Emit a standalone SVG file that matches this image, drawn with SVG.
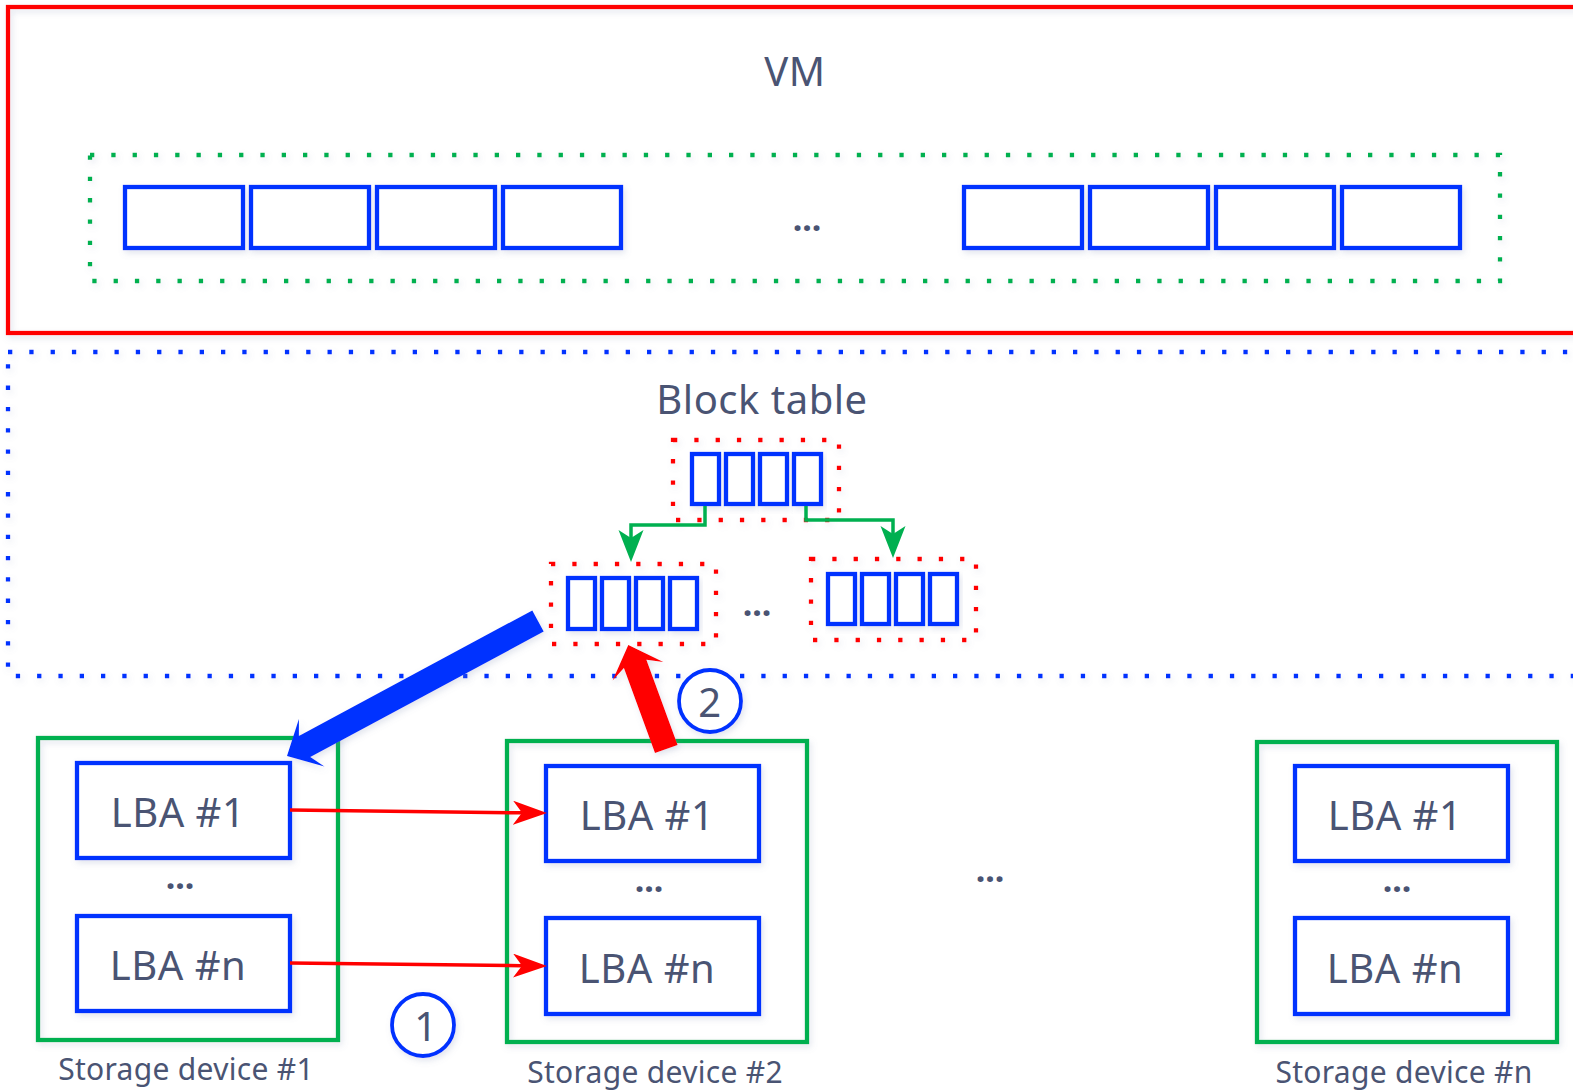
<svg xmlns="http://www.w3.org/2000/svg" width="1573" height="1091" viewBox="0 0 1573 1091">
  <defs>
    <filter id="shadow" x="-10%" y="-10%" width="130%" height="130%">
      <feDropShadow dx="2" dy="3" stdDeviation="3" flood-color="#7d8bb0" flood-opacity="0.22"/>
    </filter>
    <marker id="arrGreen" markerUnits="userSpaceOnUse" markerWidth="34" markerHeight="27" refX="8" refY="12.5" orient="auto">
      <path d="M0,0 L32,12.5 L0,25 L8,12.5 Z" fill="#00b050"/>
    </marker>
    <marker id="arrRed" markerUnits="userSpaceOnUse" markerWidth="36" markerHeight="26" refX="9" refY="12" orient="auto">
      <path d="M0,0 L34,12 L0,24 L9,12 Z" fill="#ff0000"/>
    </marker>
  </defs>
  <style>
    .txt { font-family: "Noto Sans", "Liberation Sans", sans-serif; fill: #4a5473; text-anchor: middle; }
    .big { font-size: 40px; letter-spacing: 0.5px; }
    .lbl { font-size: 30px; letter-spacing: 0.3px; }
    .ell { font-size: 34px; font-weight: bold; }
    .cell { fill: #ffffff; stroke: #0433ff; stroke-width: 4.3; }
    .dotted { fill: none; stroke-width: 4.3; stroke-dasharray: 4.3 17; }
    .frame { fill: none; stroke-width: 4.3; }
    .sh { filter: url(#shadow); }
  </style>

  <rect width="1573" height="1091" fill="#ffffff"/>

  <!-- VM area -->
  <g id="vm">
    <rect class="frame sh" x="8" y="7" width="1580" height="326" stroke="#ff0000"/>
    <text class="txt big" x="795" y="86">VM</text>
  </g>

  <!-- VM virtual disk blocks -->
  <g id="vm-blocks">
    <rect class="dotted sh" x="90" y="155" width="1410" height="126" stroke="#00b050"/>
    <rect class="cell sh" x="125" y="187" width="118" height="61"/>
    <rect class="cell sh" x="251" y="187" width="118" height="61"/>
    <rect class="cell sh" x="377" y="187" width="118" height="61"/>
    <rect class="cell sh" x="503" y="187" width="118" height="61"/>
    <text class="txt ell" x="807" y="231">...</text>
    <rect class="cell sh" x="964" y="187" width="118" height="61"/>
    <rect class="cell sh" x="1090" y="187" width="118" height="61"/>
    <rect class="cell sh" x="1216" y="187" width="118" height="61"/>
    <rect class="cell sh" x="1342" y="187" width="118" height="61"/>
  </g>

  <!-- Block table area -->
  <g id="block-table">
    <rect class="dotted sh" x="8" y="352" width="1580" height="324" stroke="#0433ff"/>
    <text class="txt big" x="762" y="414">Block table</text>
  </g>

  <g id="bt-root">
    <rect class="dotted sh" x="673" y="440" width="166" height="80" stroke="#ff0000"/>
    <rect class="cell sh" x="692" y="454" width="27" height="50"/>
    <rect class="cell sh" x="726" y="454" width="27" height="50"/>
    <rect class="cell sh" x="760" y="454" width="27" height="50"/>
    <rect class="cell sh" x="794" y="454" width="27" height="50"/>
  </g>

  <g id="bt-leaf-1">
    <rect class="dotted sh" x="551" y="564" width="165" height="80" stroke="#ff0000"/>
    <rect class="cell sh" x="568" y="578" width="27" height="51"/>
    <rect class="cell sh" x="602" y="578" width="27" height="51"/>
    <rect class="cell sh" x="636" y="578" width="27" height="51"/>
    <rect class="cell sh" x="670" y="578" width="27" height="51"/>
  </g>

  <text class="txt ell" x="757" y="616">...</text>

  <g id="bt-leaf-n">
    <rect class="dotted sh" x="811" y="559" width="165" height="81" stroke="#ff0000"/>
    <rect class="cell sh" x="828" y="574" width="27" height="50"/>
    <rect class="cell sh" x="862" y="574" width="27" height="50"/>
    <rect class="cell sh" x="896" y="574" width="27" height="50"/>
    <rect class="cell sh" x="930" y="574" width="27" height="50"/>
  </g>

  <!-- Storage devices -->
  <g id="storage-1">
    <rect class="frame sh" x="38" y="738" width="300" height="302" fill="#ffffff" stroke="#00b050"/>
    <rect class="cell sh" x="77" y="763" width="213" height="95"/>
    <text class="txt big" x="178" y="827">LBA #1</text>
    <text class="txt ell" x="180" y="889">...</text>
    <rect class="cell sh" x="77" y="916" width="213" height="95"/>
    <text class="txt big" x="178" y="980">LBA #n</text>
    <text class="txt lbl" x="186" y="1080">Storage device #1</text>
  </g>

  <g id="storage-2">
    <rect class="frame sh" x="507" y="741" width="300" height="301" fill="#ffffff" stroke="#00b050"/>
    <rect class="cell sh" x="546" y="766" width="213" height="95"/>
    <text class="txt big" x="647" y="830">LBA #1</text>
    <text class="txt ell" x="649" y="892">...</text>
    <rect class="cell sh" x="546" y="918" width="213" height="96"/>
    <text class="txt big" x="647" y="983">LBA #n</text>
    <text class="txt lbl" x="655" y="1083">Storage device #2</text>
  </g>

  <text class="txt ell" x="990" y="882">...</text>

  <g id="storage-n">
    <rect class="frame sh" x="1257" y="742" width="300" height="300" fill="#ffffff" stroke="#00b050"/>
    <rect class="cell sh" x="1295" y="766" width="213" height="95"/>
    <text class="txt big" x="1395" y="830">LBA #1</text>
    <text class="txt ell" x="1397" y="892">...</text>
    <rect class="cell sh" x="1295" y="918" width="213" height="96"/>
    <text class="txt big" x="1395" y="983">LBA #n</text>
    <text class="txt lbl" x="1404" y="1083">Storage device #n</text>
  </g>

  <!-- Step markers -->
  <g id="step-1">
    <circle class="sh" cx="423" cy="1025" r="31" fill="#ffffff" stroke="#0433ff" stroke-width="3.8"/>
    <text class="txt big" x="426" y="1041">1</text>
  </g>
  <g id="step-2">
    <circle class="sh" cx="710" cy="701" r="31" fill="#ffffff" stroke="#0433ff" stroke-width="3.8"/>
    <text class="txt big" x="710" y="717">2</text>
  </g>

  <!-- Connectors -->
  <g id="connectors">
    <path d="M705,506 V525 H631 V538" fill="none" stroke="#00b050" stroke-width="3.5" marker-end="url(#arrGreen)"/>
    <path d="M806,506 V520 H893 V534" fill="none" stroke="#00b050" stroke-width="3.5" marker-end="url(#arrGreen)"/>
    <line x1="290" y1="810" x2="522" y2="812.8" stroke="#ff0000" stroke-width="3.5" marker-end="url(#arrRed)"/>
    <line x1="290" y1="963" x2="522" y2="965.7" stroke="#ff0000" stroke-width="3.5" marker-end="url(#arrRed)"/>
    <polygon class="sh" fill="#0433ff" points="287,756 324.4,766.5 310.3,757.1 543.7,631.6 532.3,610.4 298.9,736 298.9,719"/>
    <polygon class="sh" fill="#ff0000" points="628.3,645 663.3,662 646.4,659.7 677.6,744.9 655,753.1 623.9,667.9 612.6,680.6"/>
  </g>
</svg>
